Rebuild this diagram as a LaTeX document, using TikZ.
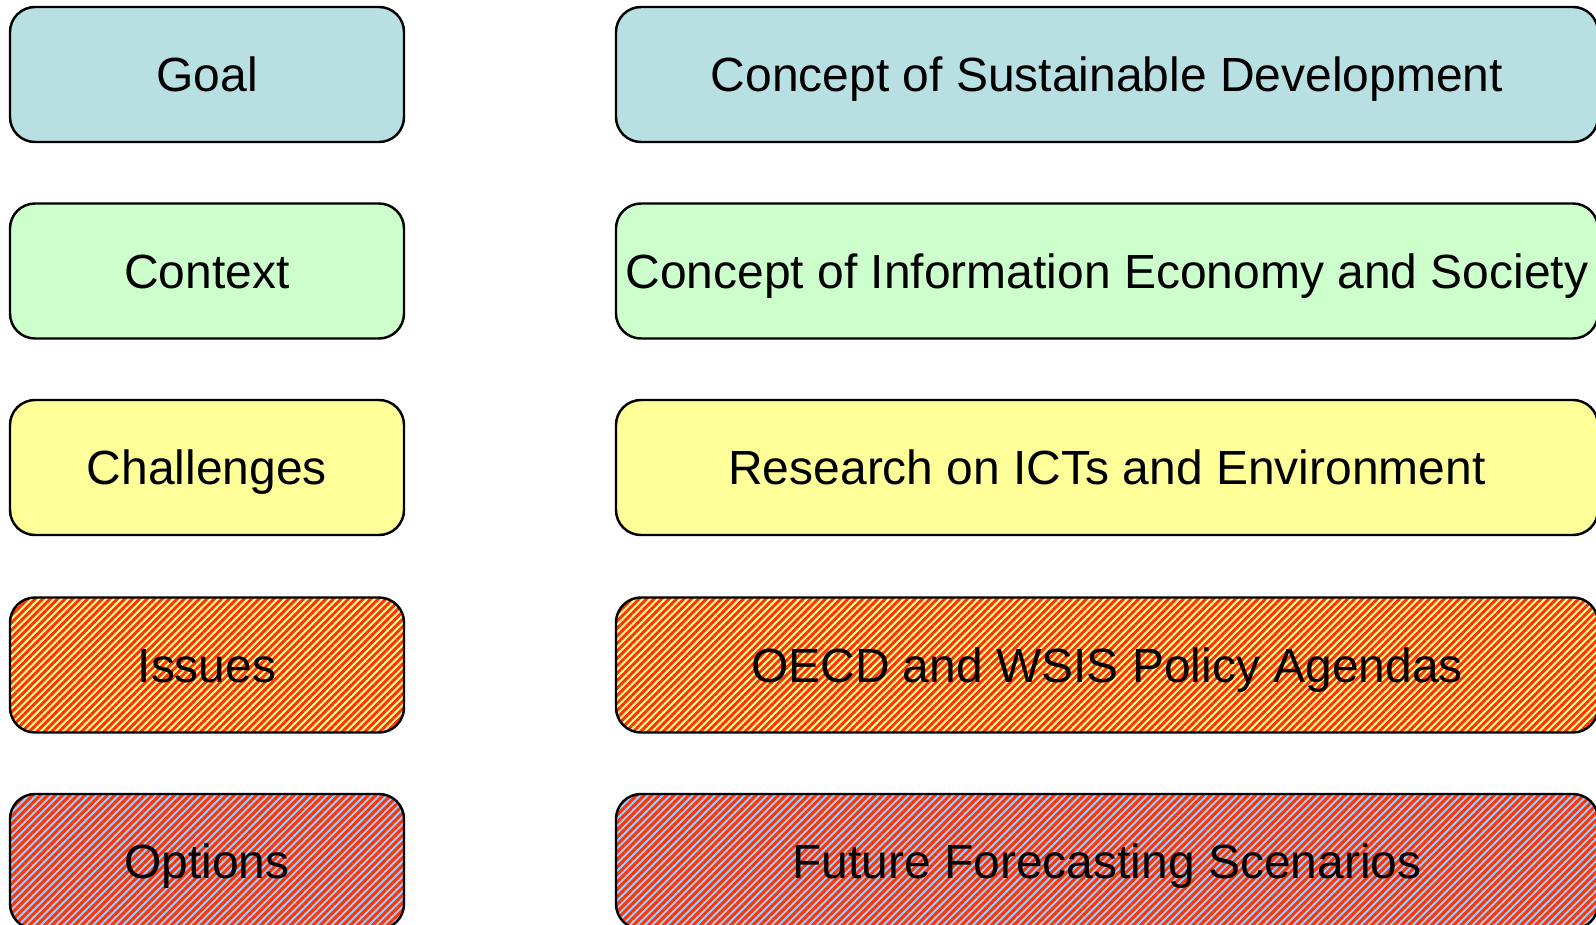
\documentclass[tikz,border=0pt]{standalone}
\usepackage{fontspec}
\setmainfont{Liberation Sans}
\usepackage{tikz}
\usetikzlibrary{positioning,patterns.meta}

\definecolor{goalblue}{HTML}{B8E0E3}
\definecolor{ctxgreen}{HTML}{CCFFCC}
\definecolor{chalyellow}{HTML}{FFFF99}
\definecolor{hatchred}{HTML}{FF3300}
\definecolor{optblue}{HTML}{99CCFF}

\begin{document}
\begin{tikzpicture}[line cap=round, line join=round,
  box/.style={draw=black, line width=1.4pt, rounded corners=0.5cm,
    minimum height=2.7cm, inner sep=0pt, text height=19.6pt, text depth=0pt,
    font=\fontsize{27.3}{31}\selectfont},
  leftbox/.style={box, minimum width=7.88cm},
  rightbox/.style={box, minimum width=19.64cm},
  hatched/.style={preaction={fill=#1},
    pattern={Lines[angle=45,distance=3pt,line width=1.7pt]},
    pattern color=hatchred}]

% fixed page size
\useasboundingbox (0,0) rectangle (31.92,-18.5);

% --- row centres ---
\def\xL{4.14}
\def\xR{22.14}

% ------------------ LEFT column ------------------
\node[leftbox, fill=goalblue]   (goal)  at (\xL,-1.49)  {Goal};
\node[leftbox, fill=ctxgreen]   (ctx)   at (\xL,-5.42)  {Context};
\node[leftbox, fill=chalyellow] (chal)  at (\xL,-9.35)  {Challenges};
\node[leftbox, hatched=chalyellow] (iss) at (\xL,-13.3) {Issues};
\node[leftbox, hatched=optblue] (opt)   at (\xL,-17.23) {Options};

% ------------------ RIGHT column ------------------
\node[rightbox, fill=goalblue]   (goaltxt) at (\xR,-1.49)  {Concept of Sustainable Development};
\node[rightbox, fill=ctxgreen]   (ctxtxt)  at (\xR,-5.42)  {Concept of Information Economy and Society};
\node[rightbox, fill=chalyellow] (chaltxt) at (\xR,-9.35)  {Research on ICTs and Environment};
\node[rightbox, hatched=chalyellow] (isstxt) at (\xR,-13.3) {OECD and WSIS Policy Agendas};
\node[rightbox, hatched=optblue] (opttxt)  at (\xR,-17.23) {Future Forecasting Scenarios};

\end{tikzpicture}
\end{document}
